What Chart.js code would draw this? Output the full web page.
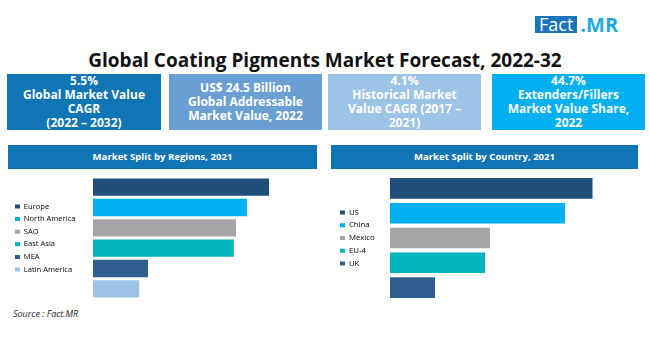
<!DOCTYPE html>
<html>
<head>
<meta charset="utf-8">
<script src="https://cdn.jsdelivr.net/npm/chart.js@4.4.0/dist/chart.umd.min.js"></script>
<style>
  body { margin: 0; background: #fff; font-family: "Open Sans", sans-serif; }
  #page { position: relative; width: 650px; height: 351px; overflow: hidden; }
  .logo { position: absolute; left: 535px; top: 16px; height: 17px; display: flex; align-items: center; }
  .logo .fact { background: #1B75BB; color: #fff; font-size: 18px; line-height: 17px; padding: 0 4px; height: 17px; }
  .logo .mr { color: #1FA8E0; font-size: 20px; font-weight: bold; margin-left: 3px; line-height: 17px; }
  h1 { position: absolute; left: 0; width: 650px; top: 48px; margin: 0; text-align: center;
       font-size: 19px; line-height: 24px; font-weight: bold; color: #111; }
  .kpi { position: absolute; top: 74px; height: 56px; color: #fff; font-weight: bold; font-size: 12px;
         line-height: 14px; text-align: center; display: flex; align-items: center; justify-content: center; }
  .band { position: absolute; top: 145px; height: 24px; background: #0F75B5; color: #fff; font-weight: bold;
          font-size: 9.6px; line-height: 24px; text-align: center; }
  .chartbox { position: absolute; top: 170px; width: 325px; height: 135px; }
  .source { position: absolute; left: 13px; top: 307px; font-size: 9px; font-style: italic; color: #222; }
</style>
</head>
<body>
<div id="page">
  <div class="logo"><span class="fact">Fact</span><span class="mr">.MR</span></div>
  <h1>Global Coating Pigments Market Forecast, 2022-32</h1>
  <div class="kpi" style="left:7px;width:154px;background:#0F75B5;">5.5%<br>Global Market Value<br>CAGR<br>(2022 – 2032)</div>
  <div class="kpi" style="left:169px;width:153px;background:#6B9FD3;">US$ 24.5 Billion<br>Global Addressable<br>Market Value, 2022</div>
  <div class="kpi" style="left:328px;width:153px;background:#9DC3E6;">4.1%<br>Historical Market<br>Value CAGR (2017 –<br>2021)</div>
  <div class="kpi" style="left:492px;width:153px;background:#00B0F0;">44.7%<br>Extenders/Fillers<br>Market Value Share,<br>2022</div>

  <div class="band" style="left:8px;width:309px;">Market Split by Regions, 2021</div>
  <div class="band" style="left:331px;width:307px;">Market Split by Country, 2021</div>

  <div class="chartbox" style="left:0;"><canvas id="regionChart"></canvas></div>
  <div class="chartbox" style="left:325px;"><canvas id="countryChart"></canvas></div>

  <div class="source">Source : Fact.MR</div>
</div>

<script>
const regionLabels = ["Europe", "North America", "SAO", "East Asia", "MEA", "Latin America"];
const regionValues = [80, 70, 65, 64, 25, 21];
const regionColors = ["#1F4E79", "#00B0F0", "#A5A5A5", "#00B5BE", "#2E5E8E", "#9DC3E6"];

const countryLabels = ["US", "China", "Mexico", "EU-4", "UK"];
const countryValues = [81, 70, 40, 38, 18];
const countryColors = ["#1F4E79", "#00B0F0", "#A5A5A5", "#00B5BE", "#2E5E8E"];

function makeSplitChart(canvasId, labels, values, colors, opts) {
    const ctx = document.getElementById(canvasId).getContext("2d");
    return new Chart(ctx, {
        type: "bar",
        data: {
            labels: labels,
            datasets: [{
                data: values,
                backgroundColor: colors,
                borderWidth: 0,
                categoryPercentage: 1,
                barPercentage: opts.barPct
            }]
        },
        options: {
            indexAxis: "y",
            responsive: true,
            maintainAspectRatio: false,
            animation: false,
            layout: { padding: opts.padding },
            scales: {
                x: { display: false, min: 0, max: 100 },
                y: {
                    display: true,
                    grid: { display: false },
                    border: { display: false },
                    ticks: { display: false },
                    // push the plot area so bars start where the legend leaves off
                    afterFit: function (scale) {
                        const lg = scale.chart.legend;
                        const used = opts.padding.left + (lg ? lg.width : 0);
                        scale.width = Math.max(0, opts.plotLeft - used);
                    }
                }
            },
            plugins: {
                tooltip: { enabled: false },
                legend: {
                    position: "left",
                    align: "center",
                    labels: {
                        boxWidth: opts.box,
                        boxHeight: opts.box - 1,
                        padding: 5,
                        color: "#404040",
                        font: { family: "Open Sans", size: opts.font },
                        generateLabels: function (chart) {
                            return chart.data.labels.map((l, i) => ({
                                text: l,
                                fillStyle: colors[i],
                                strokeStyle: colors[i],
                                lineWidth: 0,
                                hidden: false,
                                index: i
                            }));
                        }
                    }
                }
            }
        }
    });
}

makeSplitChart("regionChart", regionLabels, regionValues, regionColors, {
    padding: { left: 10, right: 12, top: 7, bottom: 6 },
    plotLeft: 93, barPct: 0.85, box: 5, font: 7.6
});
makeSplitChart("countryChart", countryLabels, countryValues, countryColors, {
    padding: { left: 10, right: 10, top: 6, bottom: 5 },
    plotLeft: 65, barPct: 0.83, box: 5, font: 7.8
});
</script>
</body>
</html>
